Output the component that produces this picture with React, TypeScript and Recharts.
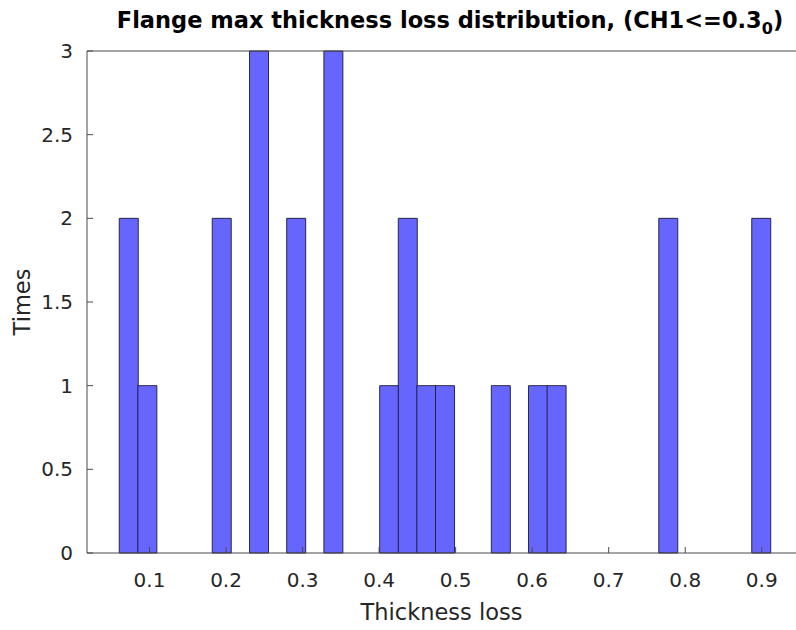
import { BarChart, Bar, XAxis, YAxis } from "recharts";

// histogram bins (centres) and counts
const binCenters = [
  0.0726, 0.0969, 0.1212, 0.1455, 0.1698, 0.1941, 0.2184, 0.2428, 0.2671, 0.2914,
  0.3157, 0.34, 0.3643, 0.3886, 0.4129, 0.4372, 0.4615, 0.4859, 0.5102, 0.5345,
  0.5588, 0.5831, 0.6074, 0.6317, 0.656, 0.6803, 0.7046, 0.729, 0.7533, 0.7776,
  0.8019, 0.8262, 0.8505, 0.8748, 0.8991,
];
const counts = [
  2, 1, 0, 0, 0, 2, 0, 3, 0, 2,
  0, 3, 0, 0, 1, 2, 1, 1, 0, 0,
  1, 0, 1, 1, 0, 0, 0, 0, 0, 2,
  0, 0, 0, 0, 2,
];
const xTicks = [0.1, 0.2, 0.3, 0.4, 0.5, 0.6, 0.7, 0.8, 0.9];
const yTicks = [0, 0.5, 1, 1.5, 2, 2.5, 3];
const xDomain = [0.0183, 0.95];

const data = binCenters.map((center, i) => ({ center, count: counts[i] }));

const axisColor = "#4a4a4a";
const textColor = "#262626";
const font = "'DejaVu Sans', sans-serif";

export default function App() {
  return (
    <div
      style={{
        position: "fixed",
        left: 0,
        top: 0,
        width: 796,
        height: 630,
        overflow: "hidden",
        background: "#fff",
        fontFamily: font,
      }}
    >
      <div
        style={{
          position: "absolute",
          left: 0,
          width: 900,
          top: 7,
          textAlign: "center",
          fontWeight: "bold",
          fontSize: 22.5,
          color: "#000",
          whiteSpace: "nowrap",
        }}
      >
        Flange max thickness loss distribution, (CH1&lt;=0.3<sub style={{ fontSize: 16 }}>0</sub>)
      </div>
      <div style={{ position: "absolute", left: 0, top: 0 }}>
        <BarChart
          width={820}
          height={630}
          data={data}
          margin={{ top: 50, right: 20, bottom: 0, left: 0 }}
          barCategoryGap={0}
          barGap={0}
        >
          <XAxis
            dataKey="center"
            type="number"
            domain={xDomain}
            allowDataOverflow
            ticks={xTicks}
            interval={0}
            height={77}
            tickSize={-6}
            tickMargin={26}
            stroke={axisColor}
            tick={{ fill: textColor, fontSize: 20, fontFamily: font }}
            label={{
              value: "Thickness loss",
              position: "insideBottom",
              offset: 10,
              dx: -2,
              fill: textColor,
              fontSize: 22.5,
              fontFamily: font,
            }}
          />
          <XAxis
            xAxisId="top"
            orientation="top"
            dataKey="center"
            type="number"
            domain={xDomain}
            allowDataOverflow
            ticks={xTicks}
            interval={0}
            height={1}
            tickSize={-6}
            stroke={axisColor}
            tick={false}
          />
          <YAxis
            type="number"
            domain={[0, 3]}
            ticks={yTicks}
            interval={0}
            width={87}
            tickSize={-6}
            tickMargin={20}
            stroke={axisColor}
            tick={{ fill: textColor, fontSize: 20, fontFamily: font }}
            label={{
              value: "Times",
              angle: -90,
              position: "center",
              dx: -21,
              fill: textColor,
              fontSize: 22.5,
              fontFamily: font,
            }}
          />
          <Bar
            dataKey="count"
            fill="#6666ff"
            stroke="#1a1a33"
            strokeWidth={0.9}
            isAnimationActive={false}
          />
        </BarChart>
      </div>
    </div>
  );
}
